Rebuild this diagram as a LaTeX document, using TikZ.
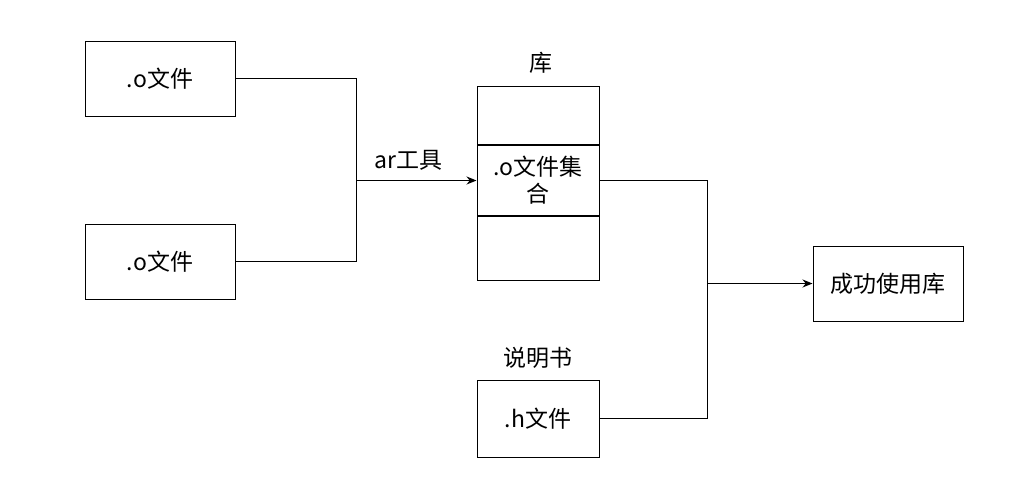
\documentclass[tikz,border=0pt]{standalone}
\usepackage{fontspec}
\setmainfont{Noto Sans CJK SC}
\usetikzlibrary{arrows.meta,positioning,calc}

\begin{document}
\begin{tikzpicture}[x=1pt,y=-1pt,
  box/.style={draw,line width=1pt,align=center,minimum width=150pt,
              minimum height=75pt,inner sep=0pt,font=\fontsize{23}{27}\selectfont},
  libpart/.style={draw,line width=1pt,align=center,minimum width=122pt,
              inner sep=0pt,font=\fontsize{23}{27}\selectfont},
  lbl/.style={font=\fontsize{23}{27}\selectfont,inner sep=0pt},
  wire/.style={line width=1pt},
  >={Stealth[length=10pt,width=8pt]},node distance=0pt]
\useasboundingbox (0,0) rectangle (1009,499);
% object files
\node[box] (o1) at (160,78.5) {.o文件};
\node[box] (o2) at (160,261.5) {.o文件};
% library, three parts stacked
\node[libpart,minimum height=58pt,anchor=north] (libtop) at (538,86) {};
\node[libpart,minimum height=70pt,below=of libtop] (libmid) {.o文件集\\合};
\node[libpart,minimum height=64pt,below=of libmid] (libbot) {};
\node[lbl] (libname) at (541,63) {库};
% header file
\node[libpart,minimum height=77pt] (hfile) at (538,418.5) {.h文件};
\node[lbl] (hname) at (538,358) {说明书};
% result
\node[box] (use) at (888,283.5) {成功使用库};
% ar step
\coordinate (arjoin) at ($(o1.east)!0.5!(o2.east)+(121,0)$);
\draw[wire] (o1.east) -| (arjoin |- o2.east) -- (o2.east);
\draw[wire,->] (arjoin |- libmid.west) -- (libmid.west)
  node[lbl,pos=0.43,above=10pt] (arlbl) {ar工具};
% use step
\coordinate (usejoin) at (707,283.5);
\draw[wire] (libmid.east) -| (usejoin |- hfile.east) -- (hfile.east);
\draw[wire,->] (usejoin |- use.west) -- (use.west);
\end{tikzpicture}
\end{document}
